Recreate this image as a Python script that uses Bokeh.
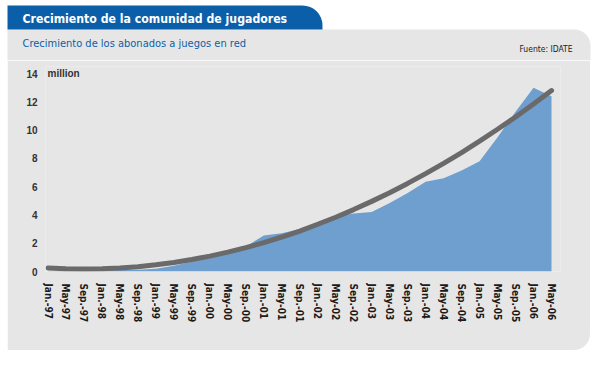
from bokeh.plotting import figure
from bokeh.layouts import column
from bokeh.models import Range1d, FixedTicker, BoxAnnotation, Label
from bokeh.embed import file_html
from bokeh.resources import INLINE

months = ["Jan.-97", "May-97", "Sep.-97", "Jan.-98", "May-98", "Sep.-98",
          "Jan.-99", "May-99", "Sep.-99", "Jan.-00", "May-00", "Sep.-00",
          "Jan.-01", "May-01", "Sep.-01", "Jan.-02", "May-02", "Sep.-02",
          "Jan.-03", "May-03", "Sep.-03", "Jan.-04", "May-04", "Sep.-04",
          "Jan.-05", "May-05", "Sep.-05", "Jan.-06", "May-06"]

subscribers = [0.02, 0.03, 0.05, 0.07, 0.10, 0.12, 0.20, 0.40, 0.70, 0.95,
               1.25, 1.75, 2.55, 2.70, 3.00, 3.50, 3.90, 4.10, 4.20, 4.85,
               5.55, 6.35, 6.60, 7.15, 7.80, 9.50, 11.30, 13.00, 12.40]

trend = [0.25, 0.19, 0.18, 0.19, 0.25, 0.34, 0.48, 0.64, 0.85, 1.09,
         1.37, 1.69, 2.04, 2.44, 2.86, 3.34, 3.84, 4.38, 4.96, 5.57,
         6.23, 6.92, 7.65, 8.41, 9.22, 10.06, 10.93, 11.85, 12.80]

y_ticks = [0, 2, 4, 6, 8, 10, 12, 14]

title_text = "Crecimiento de la comunidad de jugadores"
subtitle_text = "Crecimiento de los abonados a juegos en red"
source_text = "Fuente: IDATE"
unit_text = "million"

x = list(range(len(months)))

COND = "DejaVu Sans Condensed, Liberation Sans, sans-serif"
BLUE = "#0b5ea8"
PANEL = "#e6e6e6"

# ---------- header (title tab, subtitle, source) ----------
HW, HH = 600, 60
hdr = figure(width=HW, height=HH, output_backend="svg", toolbar_location=None,
             x_range=Range1d(0, HW), y_range=Range1d(HH, 0),
             x_axis_type=None, y_axis_type=None, min_border=0,
             frame_align=False)
hdr.background_fill_color = "white"
hdr.border_fill_color = "white"
hdr.outline_line_color = None
hdr.grid.visible = False

hdr.add_layout(BoxAnnotation(left=7, right=590, top=29, bottom=HH,
                             fill_color=PANEL, fill_alpha=1, line_color=None,
                             level="underlay", border_radius=(0, 16, 0, 0)))
hdr.add_layout(BoxAnnotation(left=7, right=322, top=5, bottom=29,
                             fill_color=BLUE, fill_alpha=1, line_color=None,
                             level="underlay", border_radius=(0, 20, 0, 0)))
hdr.add_layout(Label(x=22, y=18, text=title_text, text_font=COND,
                     text_font_style="bold", text_font_size="12.2px",
                     text_color="white", text_baseline="middle",
                     text_align="left"))
hdr.add_layout(Label(x=22, y=42.5, text=subtitle_text, text_font=COND,
                     text_font_size="11px", text_color=BLUE,
                     text_baseline="middle", text_align="left"))
hdr.add_layout(Label(x=572, y=48.5, text=source_text, text_font=COND,
                     text_font_size="8.5px", text_color="#222222",
                     text_baseline="middle", text_align="right"))

# ---------- main chart ----------
W, H = 583, 290
p = figure(width=W, height=H, output_backend="svg", toolbar_location=None,
           x_range=Range1d(-0.14, 28.5), y_range=Range1d(0, 14.5),
           min_border_left=38, min_border_right=30,
           min_border_top=6, min_border_bottom=79,
           margin=(0, 0, 0, 7), frame_align=False,
           styles={"border-bottom-right-radius": "16px", "overflow": "hidden"})

p.background_fill_color = PANEL
p.border_fill_color = PANEL
p.outline_line_color = None
p.grid.visible = False

p.varea(x=x, y1=0, y2=subscribers, fill_color="#6f9fcf")
p.line(x=x, y=trend, line_color="#6a6a6a", line_width=5, line_cap="round")

p.xaxis.ticker = FixedTicker(ticks=x)
p.xaxis.major_label_overrides = {i: m for i, m in enumerate(months)}
p.xaxis.major_label_orientation = "vertical"
p.xaxis.major_label_standoff = 6
p.xaxis.major_label_text_font = COND
p.xaxis.major_label_text_font_style = "bold"
p.xaxis.major_label_text_font_size = "10px"
p.xaxis.major_label_text_color = "#1a1a1a"

p.yaxis.ticker = FixedTicker(ticks=y_ticks)
p.yaxis.major_label_standoff = 2
p.yaxis.major_label_text_font = "Liberation Sans"
p.yaxis.major_label_text_font_style = "bold"
p.yaxis.major_label_text_font_size = "10px"
p.yaxis.major_label_text_color = "#333333"

for ax in (p.xaxis[0], p.yaxis[0]):
    ax.axis_line_color = None
    ax.major_tick_line_color = None
    ax.minor_tick_line_color = None

p.add_layout(Label(x=-0.14, y=14, x_offset=2, text=unit_text,
                   text_font="Liberation Sans", text_font_style="bold",
                   text_font_size="10px", text_color="#333333",
                   text_baseline="middle", text_align="left"))

layout = column(hdr, p, spacing=0)
open("out.html", "w").write(file_html(layout, INLINE))
